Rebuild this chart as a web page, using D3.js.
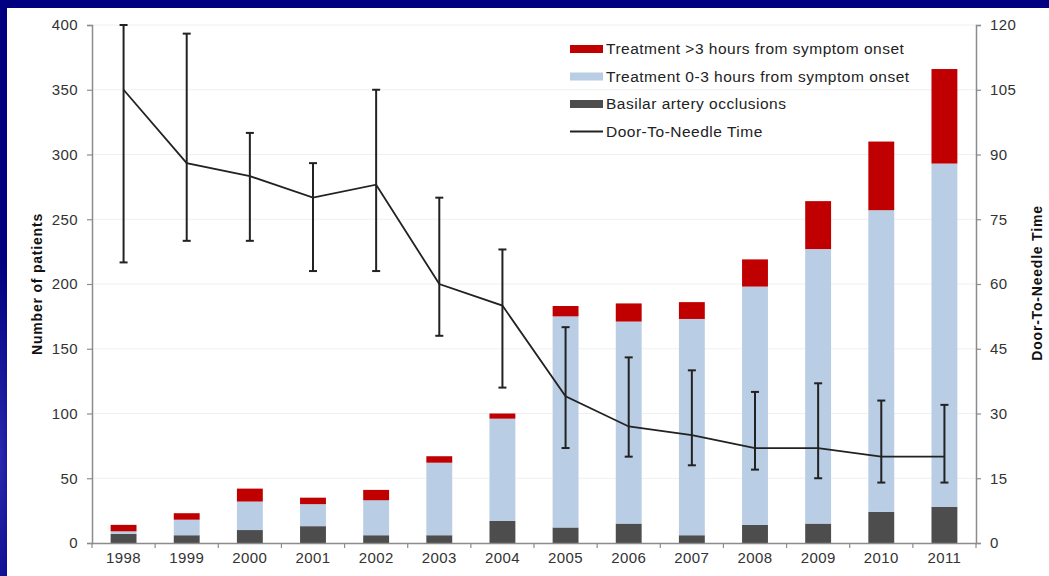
<!DOCTYPE html>
<html>
<head>
<meta charset="utf-8">
<script src="https://cdn.jsdelivr.net/npm/d3@7/dist/d3.min.js"></script>
<style>
  html, body { margin: 0; padding: 0; background: #000080; }
  svg { display: block; }
  text { font-family: "Liberation Sans", Arial, sans-serif; }
</style>
</head>
<body>
<svg id="chart" width="1049" height="576"></svg>
<script>
// Yearly thrombolysis counts and door-to-needle times
const years = ["1998","1999","2000","2001","2002","2003","2004","2005","2006","2007","2008","2009","2010","2011"];
const basilar = [7, 6, 10, 13, 6, 6, 17, 12, 15, 6, 14, 15, 24, 28];
const early = [2, 12, 22, 17, 27, 56, 79, 163, 156, 167, 184, 212, 233, 265];
const late = [5, 5, 10, 5, 8, 5, 4, 8, 14, 13, 21, 37, 53, 73];
const dtnMean = [105, 88, 85, 80, 83, 60, 55, 34, 27, 25, 22, 22, 20, 20];
const dtnHigh = [120, 118, 95, 88, 105, 80, 68, 50, 43, 40, 35, 37, 33, 32];
const dtnLow = [65, 70, 70, 63, 63, 48, 36, 22, 20, 18, 17, 15, 14, 14];
const leftTicks = [0, 50, 100, 150, 200, 250, 300, 350, 400];
const rightTicks = [0, 15, 30, 45, 60, 75, 90, 105, 120];
const seriesNames = ["Treatment >3 hours from symptom onset", "Treatment 0-3 hours from symptom onset", "Basilar artery occlusions", "Door-To-Needle Time"];

const colors = { basilar: "#4d4d4d", early: "#b9cde5", late: "#c00000", line: "#222222", axis: "#8c8c8c" };

const svg = d3.select("#chart");

// backdrop: navy slide with a soft lighter swirl at the lower left
const defs = svg.append("defs");
const rg = defs.append("radialGradient").attr("id", "swirl")
  .attr("cx", 0).attr("cy", 0.8).attr("r", 0.35);
rg.append("stop").attr("offset", "0%").attr("stop-color", "#2a2ab0");
rg.append("stop").attr("offset", "100%").attr("stop-color", "#000080");
svg.append("rect").attr("width", 1049).attr("height", 576).attr("fill", "#000080");
svg.append("rect").attr("width", 60).attr("height", 576).attr("fill", "url(#swirl)");

// white chart panel
svg.append("rect").attr("x", 7).attr("y", 8).attr("width", 1042).attr("height", 568).attr("fill", "#ffffff");

const x0 = 92, x1 = 976, yTop = 25, yBot = 543;
const x = d3.scaleBand().domain(years).range([x0, x1]).padding(0);
const yL = d3.scaleLinear().domain([0, 400]).range([yBot, yTop]);
const yR = d3.scaleLinear().domain([0, 120]).range([yBot, yTop]);
const barW = x.bandwidth() * 0.41;

// gridlines
svg.append("g").selectAll("line").data(leftTicks.slice(1)).join("line")
  .attr("x1", x0).attr("x2", x1)
  .attr("y1", d => yL(d)).attr("y2", d => yL(d))
  .attr("stroke", "#f0f0f0").attr("stroke-width", 1);

// stacked bars
const rows = years.map((y, i) => ({ year: y, basilar: basilar[i], early: early[i], late: late[i] }));
const stack = d3.stack().keys(["basilar", "early", "late"])(rows);
svg.append("g").selectAll("g").data(stack).join("g")
  .attr("fill", d => colors[d.key])
  .selectAll("rect").data(d => d).join("rect")
  .attr("x", d => x(d.data.year) + (x.bandwidth() - barW) / 2)
  .attr("width", barW)
  .attr("y", d => yL(d[1]))
  .attr("height", d => yL(d[0]) - yL(d[1]));

// axes
const axisStyle = g => {
  g.select(".domain").attr("stroke", colors.axis).attr("stroke-width", 1.5);
  g.selectAll(".tick line").attr("stroke", colors.axis).attr("stroke-width", 1.2);
  g.selectAll(".tick text").attr("fill", "#333").attr("font-size", 15)
    .attr("letter-spacing", "0.4px")
    .attr("font-family", "'Liberation Sans', Arial, sans-serif");
};

svg.append("g").attr("transform", `translate(${x0},0)`)
  .call(d3.axisLeft(yL).tickValues(leftTicks).tickSizeOuter(0).tickSize(5).tickPadding(9))
  .call(axisStyle);

svg.append("g").attr("transform", `translate(${x1},0)`)
  .call(d3.axisRight(yR).tickValues(rightTicks).tickSizeOuter(0).tickSize(5).tickPadding(9))
  .call(axisStyle);

const xAxis = svg.append("g").attr("transform", `translate(0,${yBot})`)
  .call(d3.axisBottom(x).tickSize(0).tickSizeOuter(0).tickPadding(9))
  .call(axisStyle);
// tick marks between categories
xAxis.selectAll(".sep").data(years.slice(1).concat(["end"])).join("line")
  .attr("class", "sep")
  .attr("x1", (d, i) => x0 + x.step() * (i + 1)).attr("x2", (d, i) => x0 + x.step() * (i + 1))
  .attr("y1", 0).attr("y2", 5)
  .attr("stroke", colors.axis).attr("stroke-width", 1.2);
xAxis.append("line").attr("x1", x0).attr("x2", x0).attr("y1", 0).attr("y2", 5)
  .attr("stroke", colors.axis).attr("stroke-width", 1.2);

// axis titles
svg.append("text")
  .attr("transform", `translate(42,284) rotate(-90)`)
  .attr("text-anchor", "middle").attr("font-size", 14).attr("font-weight", "bold").attr("fill", "#111")
  .attr("letter-spacing", "0.8px")
  .text("Number of patients");
svg.append("text")
  .attr("transform", `translate(1042,283) rotate(-90)`)
  .attr("text-anchor", "middle").attr("font-size", 14).attr("font-weight", "bold").attr("fill", "#111")
  .attr("letter-spacing", "0.8px")
  .text("Door-To-Needle Time");

// door-to-needle line with error bars
const cx = i => x(years[i]) + x.bandwidth() / 2;
const errG = svg.append("g").attr("stroke", colors.line).attr("stroke-width", 2);
years.forEach((y, i) => {
  errG.append("line").attr("x1", cx(i)).attr("x2", cx(i))
    .attr("y1", yR(dtnLow[i])).attr("y2", yR(dtnHigh[i]));
  [dtnLow[i], dtnHigh[i]].forEach(v => {
    errG.append("line").attr("x1", cx(i) - 4).attr("x2", cx(i) + 4)
      .attr("y1", yR(v)).attr("y2", yR(v));
  });
});
svg.append("path")
  .datum(dtnMean)
  .attr("fill", "none").attr("stroke", colors.line).attr("stroke-width", 1.8)
  .attr("d", d3.line().x((d, i) => cx(i)).y(d => yR(d)));

// legend
const legend = svg.append("g").attr("transform", "translate(570,0)");
const legendY = [49, 76.5, 104, 131.5];
const swatches = [colors.late, colors.early, colors.basilar];
seriesNames.forEach((name, i) => {
  if (i < 3) {
    legend.append("rect").attr("x", 0).attr("y", legendY[i] - 4).attr("width", 33).attr("height", 8)
      .attr("fill", swatches[i]);
  } else {
    legend.append("line").attr("x1", 0).attr("x2", 33).attr("y1", legendY[i]).attr("y2", legendY[i])
      .attr("stroke", colors.line).attr("stroke-width", 1.8);
  }
  legend.append("text").attr("x", 36).attr("y", legendY[i]).attr("dy", "0.35em")
    .attr("font-size", 15.5).attr("letter-spacing", "0.5px").attr("fill", "#222").text(name);
});
</script>
</body>
</html>
